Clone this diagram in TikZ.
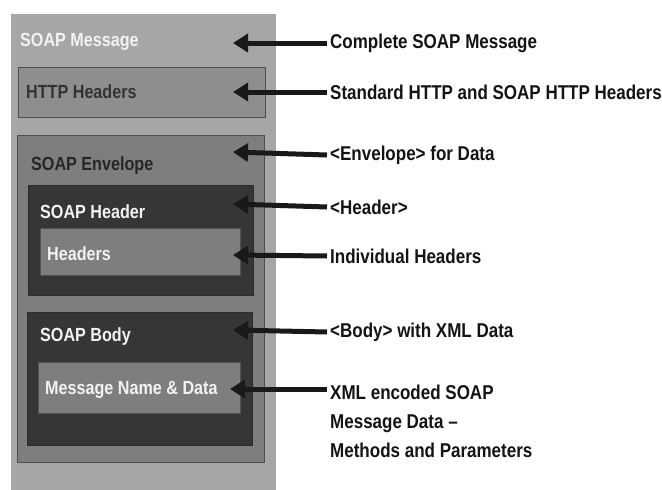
\documentclass[tikz,border=0pt]{standalone}
\usepackage{fontspec}
\newfontfamily\lab[FakeStretch=0.85]{Liberation Sans}
\usetikzlibrary{arrows.meta}
\definecolor{outerc}{HTML}{A6A6A6}
\definecolor{httpc}{HTML}{8E8E8E}
\definecolor{envc}{HTML}{7E7E7E}
\definecolor{darkc}{HTML}{363636}
\definecolor{innerc}{HTML}{7E7E7E}
\definecolor{edgec}{HTML}{4E4E4E}
\definecolor{lighttxt}{HTML}{F2F2F2}
\definecolor{darktxt}{HTML}{333333}
\tikzset{
  panel/.style={anchor=north west, inner sep=0pt, line width=1.2pt},
  boxlbl/.style={font=\lab\bfseries\fontsize{19}{23}\selectfont, anchor=west, inner sep=0pt},
  side/.style={font=\lab\bfseries\fontsize{20}{29}\selectfont, anchor=west, inner sep=0pt, text=black!92, align=left},
  arr/.style={line width=5pt, draw=black!90, -{Triangle[length=15pt,width=18pt]}}
}
\begin{document}
\begin{tikzpicture}[x=1pt,y=-1pt]
\useasboundingbox (0,0) rectangle (662,490);
\fill[white] (0,0) rectangle (662,490);
% boxes
\node[panel, fill=outerc, minimum width=265pt, minimum height=478pt] (msg) at (10,13) {};
\node[panel, fill=httpc, draw=edgec, minimum width=247pt, minimum height=50pt] (http) at (18,67) {};
\node[panel, fill=envc, draw=edgec, minimum width=247pt, minimum height=327pt] (env) at (17,135) {};
\node[panel, fill=darkc, draw=darkc!80!black, minimum width=225pt, minimum height=110pt] (hdr) at (28,185) {};
\node[panel, fill=innerc, draw=darkc!60!gray, minimum width=200pt, minimum height=47pt] (hdrs) at (40,228) {};
\node[panel, fill=darkc, draw=darkc!80!black, minimum width=225pt, minimum height=133pt] (body) at (27,312) {};
\node[panel, fill=innerc, draw=darkc!60!gray, minimum width=202pt, minimum height=51pt] (data) at (38,362) {};
% box labels
\node[boxlbl, text=lighttxt] (tmsg) at (20,42) {SOAP Message};
\node[boxlbl, text=darktxt] (thttp) at (26,92) {HTTP Headers};
\node[boxlbl, text=black!85] (tenv) at (31,166) {SOAP Envelope};
\node[boxlbl, text=lighttxt] (thdr) at (40,212) {SOAP Header};
\node[boxlbl, text=lighttxt] (thdrs) at (47,254) {Headers};
\node[boxlbl, text=lighttxt] (tbody) at (40,337) {SOAP Body};
\node[boxlbl, text=lighttxt] (tdata) at (45,390) {Message Name \& Data};
% side labels
\node[side] (s1) at (330,43) {Complete SOAP Message};
\node[side] (s2) at (330,92) {Standard HTTP and SOAP HTTP Headers};
\node[side] (s3) at (330,155) {<Envelope> for Data};
\node[side] (s4) at (330,207) {<Header>};
\node[side] (s5) at (330,256) {Individual Headers};
\node[side] (s6) at (330,332) {<Body> with XML Data};
\node[side, anchor=north west] (s7) at (330,385) {XML encoded SOAP\\Message Data –\\Methods and Parameters};
% arrow tips
\coordinate (p1) at (233,43);
\coordinate (p2) at (233,92);
\coordinate (p3) at (233,152);
\coordinate (p4) at (233,204);
\coordinate (p5) at (233,255);
\coordinate (p6) at (233,330);
\coordinate (p7) at (230,389);
\draw[arr] ([xshift=-3pt]s1.west) -- (p1);
\draw[arr] ([xshift=-3pt]s2.west) -- (p2);
\draw[arr] ([xshift=-3pt]s3.west) -- (p3);
\draw[arr] ([xshift=-3pt]s4.west) -- (p4);
\draw[arr] ([xshift=-3pt]s5.west) -- (p5);
\draw[arr] ([xshift=-3pt]s6.west) -- (p6);
\draw[arr] ([xshift=-3pt]s7.west |- p7) -- (p7);
\end{tikzpicture}
\end{document}
